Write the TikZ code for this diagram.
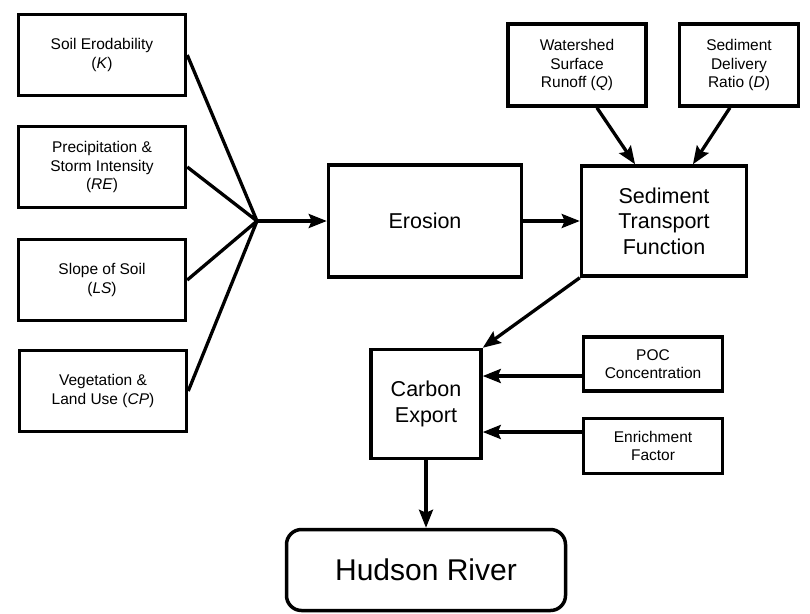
\documentclass[tikz,border=0pt]{standalone}
\usepackage{fontspec}
\setmainfont{Liberation Sans}
\usetikzlibrary{arrows.meta,calc}

\begin{document}
\begin{tikzpicture}[x=1pt, y=-1pt]
\useasboundingbox (0,0) rectangle (810,613);
\tikzstyle{every node}=[draw, line width=3.5pt, align=center, inner sep=2pt];
\tikzstyle{small}=[font=\fontsize{15.5}{18.5}\selectfont];
\tikzstyle{big}=[font=\fontsize{21.5}{25.5}\selectfont];
\tikzstyle{flow}=[line width=3.3pt, -{Stealth[length=18pt, width=14pt, inset=3pt]}];
% factors of the soil loss equation
\node[small, minimum width=167pt, minimum height=81pt] (k) at (102, 55) {Soil Erodability\\(\textit{K})};
\node[small, minimum width=167pt, minimum height=81pt] (re) at (102, 167) {Precipitation \&\\Storm Intensity\\(\textit{RE})};
\node[small, minimum width=167pt, minimum height=81pt] (ls) at (102, 280) {Slope of Soil\\(\textit{LS})};
\node[small, minimum width=167pt, minimum height=81pt] (cp) at (103, 391) {Vegetation \&\\Land Use (\textit{CP})};
\coordinate (j) at (257, 221);
% main chain
\node[big, minimum width=193pt, minimum height=112pt] (ero) at (425, 221) {Erosion};
\node[big, minimum width=165pt, minimum height=110pt] (stf) at (664, 221) {Sediment\\Transport\\Function};
\node[small, minimum width=138pt, minimum height=82pt] (q) at (577, 65) {Watershed\\Surface\\Runoff (\textit{Q})};
\node[small, minimum width=119pt, minimum height=82pt] (d) at (739, 65) {Sediment\\Delivery\\Ratio (\textit{D})};
\node[big, minimum width=110pt, minimum height=109pt] (ce) at (426, 404) {Carbon\\Export};
\node[small, minimum width=139pt, minimum height=54pt] (poc) at (653, 364) {POC\\Concentration};
\node[small, minimum width=139pt, minimum height=55pt] (ef) at (653, 446) {Enrichment\\Factor};
\node[font=\fontsize{30}{34}\selectfont, rounded corners=15pt, minimum width=279pt, minimum height=81pt] (hr) at (426, 570) {Hudson River};
\draw[line width=3.3pt] (k.east) -- (j)
(re.east) -- (j)
(ls.east) -- (j)
(cp.east) -- (j);
\draw[flow] (j) -- (ero.west);
\draw[flow] (ero.east) -- (stf.west);
\draw[flow] (q.295) -- (stf.117);
\draw[flow] (d.258) -- (stf.63);
\draw[flow] (stf.south west) -- (ce.north east);
\draw[flow] ([yshift=-12pt]poc.west) -- ([yshift=-12pt]poc.west -| ce.east);
\draw[flow] ([yshift=14pt]ef.west) -- ([yshift=14pt]ef.west -| ce.east);
\draw[flow] (ce.south) -- (hr.north);
\end{tikzpicture}
\end{document}
